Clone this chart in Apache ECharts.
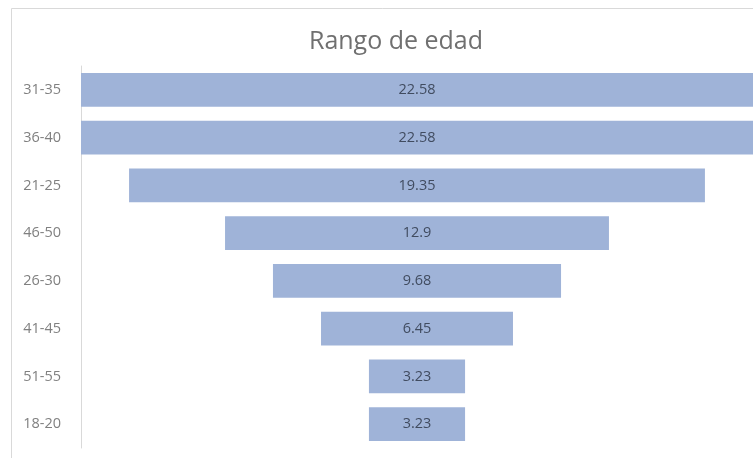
<!DOCTYPE html>
<html>
<head>
<meta charset="utf-8">
<script src="https://cdn.jsdelivr.net/npm/echarts@6/dist/echarts.min.js"></script>
<style>
html,body{margin:0;padding:0;background:#fff;}
#chart{width:753px;height:458px;}
</style>
</head>
<body>
<div id="chart"></div>
<script>
var categories = ['31-35', '36-40', '21-25', '46-50', '26-30', '41-45', '51-55', '18-20'];
var values = [22.58, 22.58, 19.35, 12.9, 9.68, 6.45, 3.23, 3.23];
var titleText = 'Rango de edad';

var maxVal = Math.max.apply(null, values);
var offsets = values.map(function (v) { return (maxVal - v) / 2; });

var chart = echarts.init(document.getElementById('chart'), null, {renderer: 'canvas'});
chart.setOption({
  animation: false,
  backgroundColor: '#ffffff',
  graphic: [{
    type: 'rect',
    shape: {x: 11.5, y: 8.5, width: 800, height: 500},
    style: {fill: 'none', stroke: '#d9d9d9', lineWidth: 1},
    silent: true,
    z: -10
  }],
  title: {
    text: titleText,
    left: 391,
    textAlign: 'center',
    top: 24,
    textStyle: {
      fontFamily: '"Open Sans", sans-serif',
      fontSize: 25,
      fontWeight: 'normal',
      color: '#707070'
    }
  },
  grid: {left: 81, right: 0, top: 66, height: 382, containLabel: false},
  xAxis: {
    type: 'value',
    min: 0,
    max: maxVal,
    show: false
  },
  yAxis: {
    type: 'category',
    data: categories,
    inverse: true,
    axisLine: {show: true, lineStyle: {color: '#d9d9d9', width: 1}},
    axisTick: {show: false},
    axisLabel: {
      margin: 20,
      color: '#808080',
      fontSize: 14.5,
      fontFamily: '"Open Sans", sans-serif'
    }
  },
  series: [{
    type: 'bar',
    stack: 'f',
    data: offsets,
    itemStyle: {color: 'transparent'},
    silent: true,
    barCategoryGap: '29%'
  }, {
    type: 'bar',
    stack: 'f',
    data: values,
    barCategoryGap: '29%',
    itemStyle: {color: '#9fb3d8'},
    label: {
      show: true,
      position: 'inside',
      color: '#414c60',
      fontSize: 14.5,
      fontFamily: '"Open Sans", sans-serif',
      formatter: function (p) { return String(p.value); }
    }
  }]
});
</script>
</body>
</html>
